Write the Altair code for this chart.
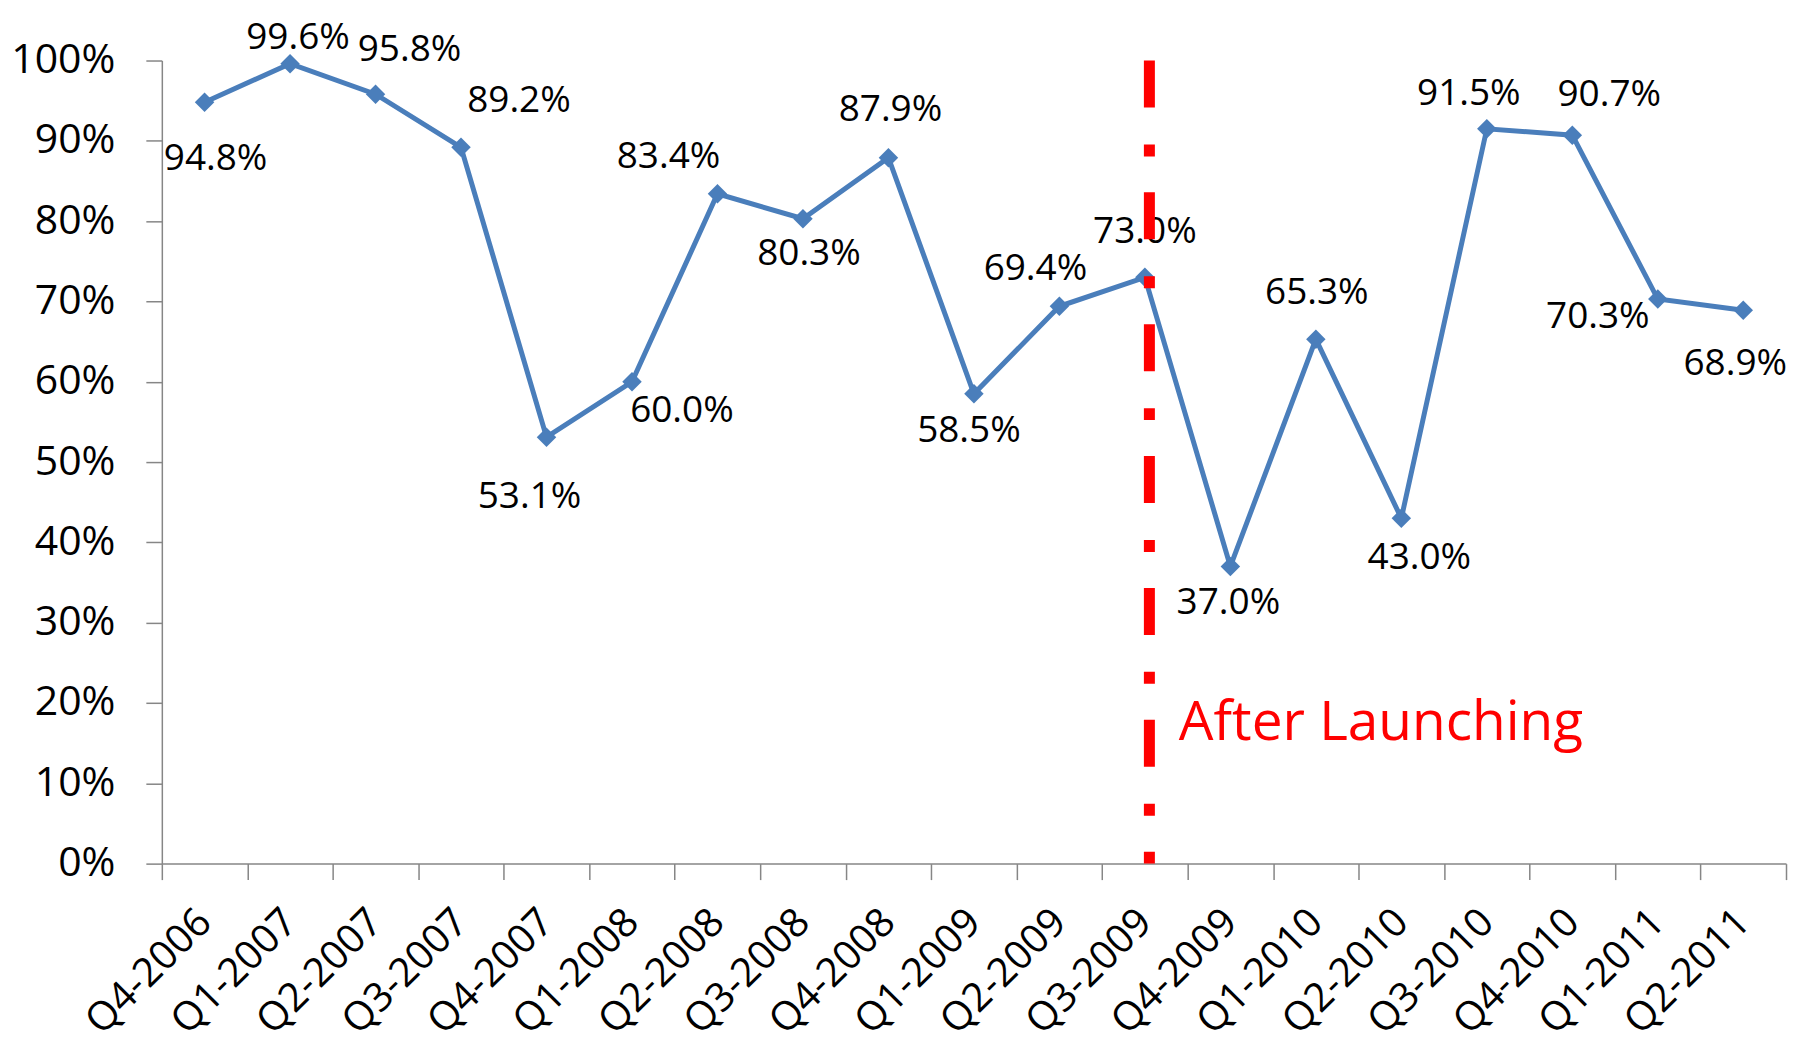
import altair as alt
import pandas as pd

# ---- data ----
quarters = ["Q4-2006", "Q1-2007", "Q2-2007", "Q3-2007", "Q4-2007", "Q1-2008",
            "Q2-2008", "Q3-2008", "Q4-2008", "Q1-2009", "Q2-2009", "Q3-2009",
            "Q4-2009", "Q1-2010", "Q2-2010", "Q3-2010", "Q4-2010", "Q1-2011",
            "Q2-2011"]
rates = [0.948, 0.996, 0.958, 0.892, 0.531, 0.600, 0.834, 0.803, 0.879, 0.585,
         0.694, 0.730, 0.370, 0.653, 0.430, 0.915, 0.907, 0.703, 0.689]
y_ticks = [0.0, 0.1, 0.2, 0.3, 0.4, 0.5, 0.6, 0.7, 0.8, 0.9, 1.0]
launch_quarter = "Q3-2009"
annotation_text = "After Launching"
annotation_level = 0.154

# ---- styling: per-label pixel offsets (dx, dy) like Excel's label placement ----
label_offsets = [(11, 57), (8, -26), (34, -44), (58, -46), (-17, 60), (50, 29),
                 (-49, -37), (6, 35), (2, -48), (-5, 37), (-24, -37), (0, -45),
                 (-2, 37), (1, -46), (18, 40), (-18, -35), (37, -40), (-60, 18),
                 (-8, 54)]

BLUE = "#4A7EBB"
RED = "#FF0000"
GREY = "#868686"
FONT = "Open Sans"

df = pd.DataFrame({"quarter": quarters, "rate": rates})

x_scale = alt.Scale(type="band", domain=quarters, paddingInner=0, paddingOuter=0)
y_scale = alt.Scale(domain=[0, 1], nice=False, zero=True)

x_axis = alt.Axis(
    title=None, labelAngle=315, labelAlign="right", labelBaseline="middle",
    labelPadding=36, tickSize=16, tickBand="extent", tickColor=GREY,
    tickWidth=1.5, domainColor=GREY, domainWidth=1.5, labelFont=FONT,
    labelFontSize=40, labelColor="black", labelOverlap=False, labelLimit=400,
    grid=False,
)
y_axis = alt.Axis(
    title=None, values=y_ticks, format=".0%", tickSize=16, tickColor=GREY,
    tickWidth=1.5, domainColor=GREY, domainWidth=1.5, labelFont=FONT,
    labelFontSize=41, labelColor="black", labelPadding=31, grid=False,
    labelBaseline="middle",
)

X = alt.X("quarter:N", scale=x_scale, bandPosition=0.5, axis=x_axis)
Y = alt.Y("rate:Q", scale=y_scale, axis=y_axis)

line = alt.Chart(df).mark_line(
    color=BLUE, strokeWidth=5,
    point=alt.OverlayMarkDef(shape="diamond", size=380, filled=True, color=BLUE,
                             opacity=1),
).encode(x=X, y=Y)

layers = [line]
for q, (dx, dy) in zip(quarters, label_offsets):
    layers.append(
        alt.Chart(df).transform_filter(alt.datum.quarter == q).mark_text(
            dx=dx, dy=dy, font=FONT, fontSize=37, color="black",
            align="center", baseline="middle",
        ).encode(
            x=alt.X("quarter:N", scale=x_scale, bandPosition=0.5),
            y=alt.Y("rate:Q", scale=y_scale),
            text=alt.Text("rate:Q", format=".1%"),
        )
    )

launch_df = pd.DataFrame({"quarter": [launch_quarter], "top": [1.0], "bottom": [0.0],
                          "label": [annotation_text], "level": [annotation_level]})

rule = alt.Chart(launch_df).mark_rule(
    color=RED, strokeWidth=11, strokeDash=[47, 37, 12, 36], strokeCap="butt",
    xOffset=4.5,
).encode(
    x=alt.X("quarter:N", scale=x_scale, bandPosition=0.5),
    y=alt.Y("top:Q", scale=y_scale),
    y2="bottom:Q",
)

annot = alt.Chart(launch_df).mark_text(
    color=RED, font=FONT, fontSize=55, align="left", baseline="alphabetic", dx=34,
).encode(
    x=alt.X("quarter:N", scale=x_scale, bandPosition=0.5),
    y=alt.Y("level:Q", scale=y_scale),
    text="label:N",
)

layers += [rule, annot]

chart = alt.layer(*layers).properties(
    width=1626, height=804,
    padding={"left": 154, "top": 52, "right": 10, "bottom": 181},
    autosize=alt.AutoSizeParams(type="none"),
    background="white",
).configure_view(strokeOpacity=0)

chart.save("out.html", embed_options={"renderer": "svg", "actions": False})
